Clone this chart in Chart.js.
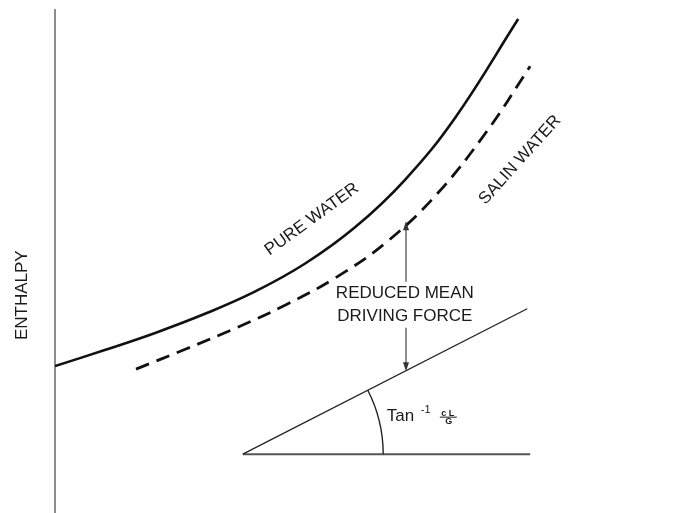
<!DOCTYPE html>
<html>
<head>
<meta charset="utf-8">
<script src="https://cdn.jsdelivr.net/npm/chart.js@4.4.1/dist/chart.umd.min.js"></script>
<style>
  html, body { margin: 0; padding: 0; background: #fff; }
  canvas { display: block; }
</style>
</head>
<body>
<canvas id="myChart" width="673" height="513"></canvas>
<script>
// readings (x: 0-100, y: enthalpy 0-100)
const pure_x  = [0, 8.3, 16.7, 25, 33.3, 41.7, 50, 58.3, 66.7, 77.2];
const pure_y  = [29.2, 32.4, 35.8, 39.6, 44.0, 49.6, 56.8, 66.2, 78.6, 98.2];
const salin_x = [13.5, 21.8, 30.2, 38.5, 46.8, 55.2, 63.5, 71.8, 79.2];
const salin_y = [28.6, 32.6, 36.8, 41.4, 46.8, 53.8, 63.2, 75.6, 88.8];
const op_x    = [31.3, 78.7];
const op_y    = [11.7, 40.6];
const base_x  = [31.3, 79.2];
const base_y  = [11.7, 11.7];
const arc_x   = 54.7;          // where the angle arc meets the base line
const arrow_x = 58.5;
const arrow_y = [58.0, 28.2];  // top (salin curve) / bottom (operating line)

const FONT = '"Liberation Sans", Arial, sans-serif';
const INK = '#1a1a1a';

function pts(xs, ys) {
  return xs.map((x, i) => ({ x: x, y: ys[i] }));
}

// labels anchored in data units
const labels = [
  { text: 'PURE WATER',  x: 42.8, y: 58.4, rot: -36 },
  { text: 'SALIN WATER', x: 77.5, y: 70.2, rot: -48 },
  { text: 'REDUCED MEAN',  x: 58.3, y: 43.6, rot: 0 },
  { text: 'DRIVING FORCE', x: 58.3, y: 39.2, rot: 0 }
];

const drawExtras = {
  id: 'drawExtras',
  afterDatasetsDraw(chart) {
    const ctx = chart.ctx;
    const xs = chart.scales.x, ys = chart.scales.y;
    ctx.save();

    // angle arc
    const cx = xs.getPixelForValue(op_x[0]), cy = ys.getPixelForValue(op_y[0]);
    const r = xs.getPixelForValue(arc_x) - cx;
    const ang = Math.atan2(ys.getPixelForValue(op_y[1]) - cy, xs.getPixelForValue(op_x[1]) - cx);
    ctx.beginPath();
    ctx.arc(cx, cy, r, ang, 0);
    ctx.strokeStyle = '#222';
    ctx.lineWidth = 1.4;
    ctx.stroke();

    // driving force arrow, broken around its label
    const ax = xs.getPixelForValue(arrow_x);
    const top = ys.getPixelForValue(arrow_y[0]);
    const bot = ys.getPixelForValue(arrow_y[1]);
    const gapTop = ys.getPixelForValue(labels[2].y) - 12;
    const gapBot = ys.getPixelForValue(labels[3].y) + 12;
    ctx.strokeStyle = '#444';
    ctx.fillStyle = '#333';
    ctx.lineWidth = 1.2;
    ctx.beginPath();
    ctx.moveTo(ax, top + 6); ctx.lineTo(ax, gapTop);
    ctx.moveTo(ax, gapBot); ctx.lineTo(ax, bot - 6);
    ctx.stroke();
    ctx.beginPath();
    ctx.moveTo(ax, top); ctx.lineTo(ax - 3, top + 9); ctx.lineTo(ax + 3, top + 9); ctx.closePath();
    ctx.moveTo(ax, bot); ctx.lineTo(ax - 3, bot - 9); ctx.lineTo(ax + 3, bot - 9); ctx.closePath();
    ctx.fill();

    // text labels
    ctx.fillStyle = INK;
    ctx.textAlign = 'center';
    ctx.textBaseline = 'middle';
    ctx.font = '17px ' + FONT;
    labels.forEach(l => {
      ctx.save();
      ctx.translate(xs.getPixelForValue(l.x), ys.getPixelForValue(l.y));
      ctx.rotate(l.rot * Math.PI / 180);
      ctx.fillText(l.text, 0, 0);
      ctx.restore();
    });

    // y axis name
    ctx.save();
    ctx.translate(chart.chartArea.left - 33, ys.getPixelForValue(43.3));
    ctx.rotate(-Math.PI / 2);
    ctx.fillText('ENTHALPY', 0, 0);
    ctx.restore();

    // Tan^-1 cL/G
    const tx = xs.getPixelForValue(55.3), ty = ys.getPixelForValue(18.2);
    ctx.textAlign = 'left';
    ctx.textBaseline = 'alphabetic';
    ctx.font = '17px ' + FONT;
    ctx.fillText('Tan', tx, ty);
    ctx.font = '11px ' + FONT;
    ctx.fillText('-1', tx + 34, ty - 8);
    ctx.font = 'bold 9px ' + FONT;
    ctx.textAlign = 'center';
    ctx.fillText('c L', tx + 61, ty - 5);
    ctx.fillText('G', tx + 62, ty + 3);
    ctx.beginPath();
    ctx.moveTo(tx + 53, ty - 4.3); ctx.lineTo(tx + 70, ty - 4.3);
    ctx.strokeStyle = INK;
    ctx.lineWidth = 1;
    ctx.stroke();

    ctx.restore();
  }
};

var myChart = document.getElementById('myChart').getContext('2d');
var chart = new Chart(myChart, {
  type: 'scatter',
  data: {
    datasets: [
      {
        label: 'Pure water',
        data: pts(pure_x, pure_y),
        showLine: true,
        borderColor: '#111',
        borderWidth: 2.6,
        tension: 0.4,
        pointRadius: 0
      },
      {
        label: 'Salin water',
        data: pts(salin_x, salin_y),
        showLine: true,
        borderColor: '#111',
        borderWidth: 2.8,
        borderDash: [14, 8],
        tension: 0.4,
        pointRadius: 0
      },
      {
        label: 'Operating line',
        data: pts(op_x, op_y),
        showLine: true,
        borderColor: '#222',
        borderWidth: 1.3,
        pointRadius: 0
      },
      {
        label: 'Base',
        data: pts(base_x, base_y),
        showLine: true,
        borderColor: '#555',
        borderWidth: 2,
        pointRadius: 0
      }
    ]
  },
  options: {
    responsive: false,
    animation: false,
    devicePixelRatio: 1,
    layout: { padding: { left: 55, top: 10, right: 18, bottom: 0 } },
    plugins: { legend: { display: false }, tooltip: { enabled: false } },
    scales: {
      x: { type: 'linear', min: 0, max: 100, display: false },
      y: {
        type: 'linear', min: 0, max: 100,
        grid: { display: false, drawTicks: false },
        ticks: { display: false },
        border: { display: true, color: '#8c8c8c', width: 2 }
      }
    }
  },
  plugins: [drawExtras]
});
</script>
</body>
</html>
